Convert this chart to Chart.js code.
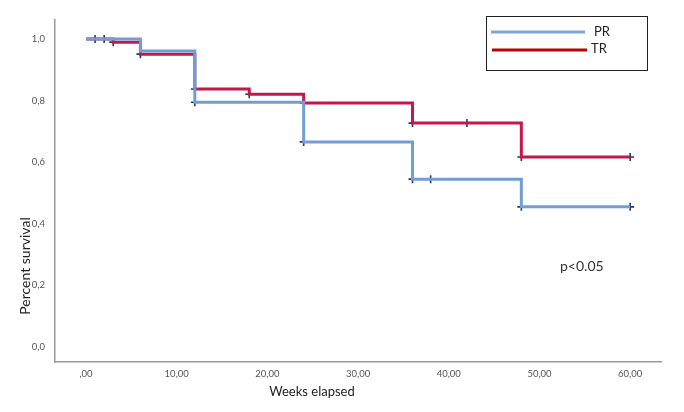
<!DOCTYPE html>
<html>
<head>
<meta charset="utf-8">
<script src="https://cdn.jsdelivr.net/npm/chart.js@4"></script>
<style>
  html, body { margin: 0; padding: 0; background: #fff; }
  #wrap { width: 684px; height: 412px; position: relative; }
</style>
</head>
<body>
<div id="wrap"><canvas id="kmChart"></canvas></div>
<script>
// Kaplan-Meier steps
const prTimes = [0, 6, 12, 24, 36, 48, 60];
const prSurv = [1.0, 0.961, 0.795, 0.666, 0.545, 0.455, 0.455];
const trTimes = [0, 3, 6, 12, 18, 24, 36, 48, 60];
const trSurv = [1.0, 0.99, 0.951, 0.838, 0.821, 0.792, 0.727, 0.617, 0.617];

// censored observations (weeks)
const prCensored = [12, 24, 36, 38, 48, 60];
const trCensored = [1, 2, 3, 6, 12, 18, 24, 36, 42, 48, 60];

const xTicks = [0, 10, 20, 30, 40, 50, 60];
const yTicks = [0, 0.2, 0.4, 0.6, 0.8, 1.0];
const seriesNames = ['PR', 'TR'];
const pValueText = 'p<0.05';

const blue = '#729dd6';
const red = '#c2184b';
const censorColor = '#1f3a68';

function steps(times, surv) {
  return times.map((t, i) => ({ x: t, y: surv[i] }));
}
function survAt(times, surv, t) {
  let s = surv[0];
  for (let i = 0; i < times.length; i++) if (t >= times[i]) s = surv[i];
  return s;
}
function censorPts(cens, times, surv) {
  return cens.map(t => ({ x: t, y: survAt(times, surv, t) }));
}

const extraText = {
  id: 'extraText',
  afterDraw(chart) {
    const ctx = chart.ctx;
    ctx.save();
    // legend box
    ctx.strokeStyle = '#222';
    ctx.lineWidth = 1;
    ctx.strokeRect(486.5, 16.5, 161, 54);
    ctx.lineWidth = 3;
    ctx.strokeStyle = '#7fa6d8';
    ctx.beginPath(); ctx.moveTo(491, 32); ctx.lineTo(585, 32); ctx.stroke();
    ctx.strokeStyle = '#c00000';
    ctx.beginPath(); ctx.moveTo(492, 50); ctx.lineTo(587, 50); ctx.stroke();
    ctx.fillStyle = '#222';
    ctx.font = '13px Lato';
    ctx.textBaseline = 'middle';
    ctx.fillText(seriesNames[0], 594, 32);
    ctx.fillText(seriesNames[1], 591, 49);
    // p value
    ctx.fillStyle = '#333';
    ctx.font = '14px Lato';
    ctx.fillText(pValueText, 560, 266);
    // axis titles
    ctx.fillStyle = '#222';
    ctx.font = '13px Lato';
    ctx.textAlign = 'center';
    ctx.fillText('Weeks elapsed', 312, 392);
    ctx.font = '14px Lato';
    ctx.translate(25, 266);
    ctx.rotate(-Math.PI / 2);
    ctx.fillText('Percent survival', 0, 0);
    ctx.restore();
  }
};

new Chart(document.getElementById('kmChart'), {
  type: 'line',
  data: {
    datasets: [
      { label: seriesNames[0], data: steps(prTimes, prSurv), borderColor: blue, borderWidth: 3, stepped: true, pointRadius: 0, fill: false },
      { label: seriesNames[1], data: steps(trTimes, trSurv), borderColor: red, borderWidth: 3, stepped: true, pointRadius: 0, fill: false },
      { type: 'scatter', data: censorPts(prCensored, prTimes, prSurv), pointStyle: 'cross', pointRadius: 4, borderColor: censorColor, borderWidth: 1.6, showLine: false },
      { type: 'scatter', data: censorPts(trCensored, trTimes, trSurv), pointStyle: 'cross', pointRadius: 4, borderColor: censorColor, borderWidth: 1.6, showLine: false }
    ]
  },
  options: {
    responsive: true,
    maintainAspectRatio: false,
    animation: false,
    layout: { padding: { left: 0, right: 23, top: 20, bottom: 0 } },
    plugins: { legend: { display: false }, tooltip: { enabled: false } },
    scales: {
      x: {
        type: 'linear', min: -3.42, max: 63.4,
        afterBuildTicks: s => { s.ticks = xTicks.map(v => ({ value: v })); },
        afterFit: s => { s.height = 50; },
        grid: { display: false, drawTicks: false },
        border: { display: true, color: '#9a9a9a', width: 1.5 },
        ticks: {
          color: '#555', font: { family: 'Lato', size: 9.5 }, padding: 6, maxRotation: 0,
          callback: v => v === 0 ? ',00' : v.toFixed(2).replace('.', ',')
        }
      },
      y: {
        min: -0.049, max: 1.062,
        afterBuildTicks: s => { s.ticks = yTicks.map(v => ({ value: v })); },
        afterFit: s => { s.width = 55; },
        grid: { display: false, drawTicks: false },
        border: { display: true, color: '#9a9a9a', width: 1.5 },
        ticks: {
          color: '#555', font: { family: 'Lato', size: 9.5 }, padding: 10,
          callback: v => v.toFixed(1).replace('.', ',')
        }
      }
    }
  },
  plugins: [extraText]
});
</script>
</body>
</html>
